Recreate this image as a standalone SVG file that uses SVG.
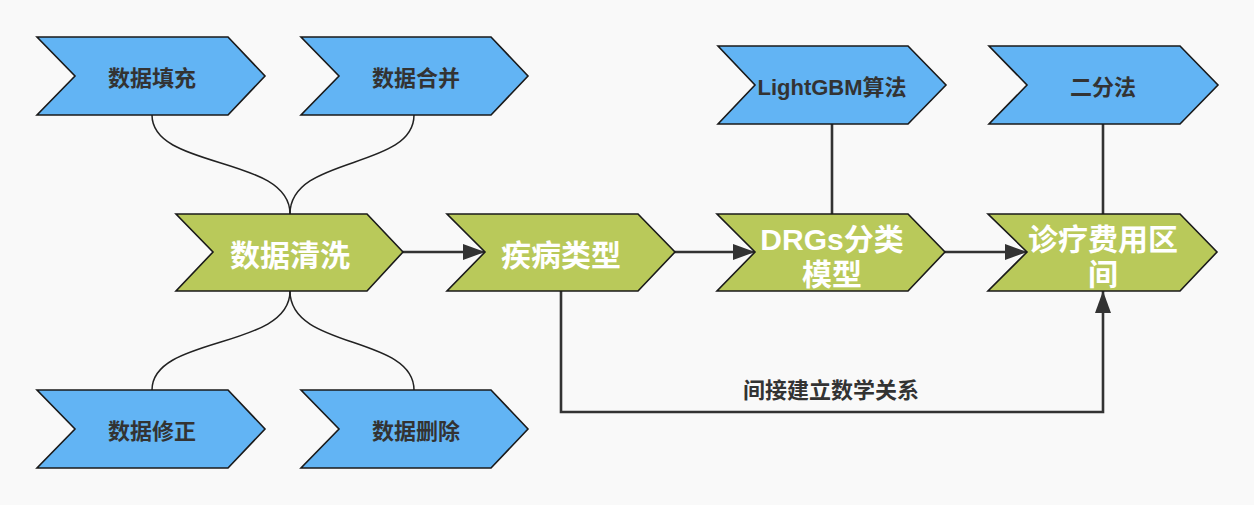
<svg xmlns="http://www.w3.org/2000/svg" width="1254" height="505" viewBox="0 0 1254 505">
<style>
.blue{fill:#62b4f4;stroke:#1a1a1a;stroke-width:1.6}
.green{fill:#b9c95a;stroke:#1a1a1a;stroke-width:1.6}
.bt{font-family:"Liberation Sans","Noto Sans CJK SC",sans-serif;font-weight:bold;font-size:22px;fill:#333;text-anchor:middle;dominant-baseline:central}
.gt{font-family:"Liberation Sans","Noto Sans CJK SC",sans-serif;font-weight:bold;font-size:30px;fill:#fff;text-anchor:middle;dominant-baseline:central}
.lbl{font-family:"Liberation Sans","Noto Sans CJK SC",sans-serif;font-weight:bold;font-size:22px;fill:#333;text-anchor:middle;dominant-baseline:central}
.c{fill:none;stroke:#222;stroke-width:1.5}
.a{fill:none;stroke:#333;stroke-width:2.6}
</style>
<defs>
<marker id="ah" viewBox="0 0 22 16" refX="22" refY="8" markerWidth="22" markerHeight="16" orient="auto" markerUnits="userSpaceOnUse">
<path d="M0,0 L22,8 L0,16 Z" fill="#333"/>
</marker>
</defs>
<rect width="1254" height="505" fill="#f9f9f9"/>
<g id="connectors">
<path class="c" d="M152,115 C152,170 290,155 290,214"/>
<path class="c" d="M414,115 C414,170 290,155 290,214"/>
<path class="c" d="M290,291 C290,350 152,335 152,390"/>
<path class="c" d="M290,291 C290,350 414,335 414,390"/>
<path class="a" d="M403,252 L485,252" marker-end="url(#ah)"/>
<path class="a" d="M675,252 L755,252" marker-end="url(#ah)"/>
<path class="a" d="M945,252 L1027,252" marker-end="url(#ah)"/>
<path class="a" d="M832,124 L832,214"/>
<path class="a" d="M1103,124 L1103,214"/>
<path class="a" d="M561,291 L561,412 L1103,412 L1103,291" marker-end="url(#ah)"/>
<text class="lbl" x="831" y="390">间接建立数学关系</text>
</g>
<g id="n_fill">
<polygon class="blue" points="37,37 228,37 265,76 228,115 37,115 75,76"/>
<text class="bt" x="152" y="78">数据填充</text>
</g>
<g id="n_merge">
<polygon class="blue" points="301,37 491,37 528,76 491,115 301,115 339,76"/>
<text class="bt" x="416" y="78">数据合并</text>
</g>
<g id="n_fix">
<polygon class="blue" points="37,390 228,390 265,429 228,468 37,468 75,429"/>
<text class="bt" x="152" y="431">数据修正</text>
</g>
<g id="n_del">
<polygon class="blue" points="301,390 491,390 528,429 491,468 301,468 339,429"/>
<text class="bt" x="416" y="431">数据删除</text>
</g>
<g id="n_clean">
<polygon class="green" points="176,214 367,214 403,252 367,291 176,291 213,252"/>
<text class="gt" x="290" y="255">数据清洗</text>
</g>
<g id="n_disease">
<polygon class="green" points="447,214 638,214 675,252 638,291 447,291 485,252"/>
<text class="gt" x="561" y="255">疾病类型</text>
</g>
<g id="n_drgs">
<polygon class="green" points="717,214 908,214 945,252 908,291 717,291 755,252"/>
<text class="gt" x="832" y="239">DRGs分类</text>
<text class="gt" x="832" y="274">模型</text>
</g>
<g id="n_cost">
<polygon class="green" points="988,214 1180,214 1217,252 1180,291 988,291 1027,252"/>
<text class="gt" x="1103" y="239">诊疗费用区</text>
<text class="gt" x="1103" y="274">间</text>
</g>
<g id="n_lgbm">
<polygon class="blue" points="718,46 908,46 946,85 908,124 718,124 755,85"/>
<text class="bt" x="832" y="87">LightGBM算法</text>
</g>
<g id="n_bisect">
<polygon class="blue" points="989,46 1180,46 1218,85 1180,124 989,124 1027,85"/>
<text class="bt" x="1103" y="87">二分法</text>
</g>
</svg>
